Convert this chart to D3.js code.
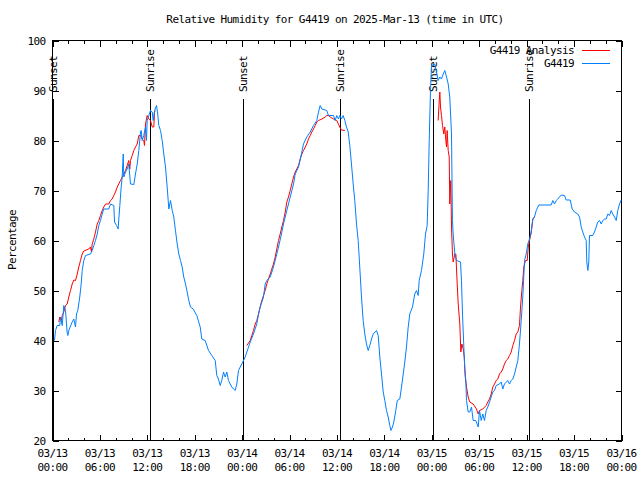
<!DOCTYPE html>
<html><head><meta charset="utf-8">
<script src="https://cdn.jsdelivr.net/npm/d3@7"></script>
<style>
html,body{margin:0;padding:0;background:#fff;}
svg{display:block;background:#fff;}
text{font-family:"DejaVu Sans Mono","Liberation Mono",monospace;font-size:11px;letter-spacing:-0.6px;fill:#000;}
</style></head><body>
<svg id="chart" width="640" height="480"></svg>
<script>
// ---------------- data ----------------
const titleText = "Relative Humidity for G4419 on 2025-Mar-13 (time in UTC)";
const yLabelText = "Percentage";
const startTime = Date.UTC(2025, 2, 13, 0, 0);   // 03/13 00:00 UTC
const spanHours = 72;
const yTicks = [20, 30, 40, 50, 60, 70, 80, 90, 100];
const seriesNames = ["G4419 Analysis", "G4419"];
const seriesColors = ["#ff0000", "#0080ff"];

// sun events: hours after 03/13 00:00 UTC
const sunNames = ["Sunset", "Sunrise", "Sunset", "Sunrise", "Sunset", "Sunrise"];
const sunHours = [0.15, 12.50, 24.21, 36.45, 48.25, 60.38];

// observed G4419 [hours after start, RH %]
const observed = [[0.25,40],[0.38,42],[0.59,43],[0.92,43],[1.01,44.7],[1.23,43],[1.43,47],[1.65,46],[1.86,41.5],[1.94,41],[2.06,42],[2.49,43.7],[2.70,44.3],[2.91,42.7],[3.04,45.3],[3.20,46],[3.45,48.7],[3.63,51.3],[3.76,54],[3.96,56],[4.18,57],[4.81,57.3],[5.02,58],[5.23,59],[5.44,60],[5.66,61.3],[5.86,63],[6.07,64],[6.29,65.3],[6.49,66.3],[7.12,66.3],[7.34,67.3],[7.76,67],[7.85,63.7],[8.10,63],[8.31,62.3],[8.39,64.3],[8.52,67],[8.69,70.7],[8.82,72.7],[8.95,77.3],[9.02,72.7],[9.24,73.7],[9.45,74.3],[9.65,75.3],[9.87,71.3],[10.29,71.2],[10.50,73.3],[10.72,75.3],[10.92,78],[11.14,81.7],[11.22,82],[11.35,80],[11.55,81],[11.77,82.7],[11.89,80],[11.98,84],[12.19,85],[12.40,86],[12.62,85.7],[12.74,84],[12.91,86],[13.16,87],[13.32,85.3],[13.45,83],[13.67,82],[13.88,80],[14.08,77.3],[14.30,74.7],[14.51,70.7],[14.72,66.3],[14.93,68],[15.15,66],[15.35,64.7],[15.56,62],[15.78,59.3],[15.98,57.3],[16.20,56],[16.41,54.7],[16.61,52.7],[16.83,51.3],[17.04,49.7],[17.25,48],[17.46,46.7],[17.80,46.3],[18.26,45],[18.69,42.7],[18.89,40.3],[19.32,40],[19.74,38],[20.16,37],[20.59,36],[20.79,33],[21.00,32.3],[21.22,31],[21.42,32],[21.64,33.7],[21.85,32.7],[22.06,33.7],[22.27,32],[22.49,31.3],[22.69,30.7],[22.90,30.3],[23.12,30],[23.32,31.3],[23.54,34],[23.75,34.7],[24.08,35.7],[24.38,36.7],[24.59,37.7],[25.02,39.7],[25.43,41.3],[25.85,43.3],[26.07,45.3],[26.28,46.7],[26.70,48.7],[26.91,51.3],[27.12,52],[27.55,52.7],[27.96,54.7],[28.18,56],[28.60,58.7],[28.89,60.7],[29.23,63.3],[29.65,66],[30.08,68.7],[30.50,71.3],[30.71,73.3],[31.13,74.7],[31.42,76.7],[31.76,79.3],[32.18,80.7],[32.61,81.7],[33.03,83],[33.44,84],[33.66,85.7],[33.87,87],[34.08,86.3],[34.71,86],[34.92,85],[35.56,85],[35.77,84],[35.97,85],[36.19,84.3],[36.35,85],[36.57,84.3],[36.78,85],[36.99,84],[37.20,82.7],[37.42,81.7],[37.62,79],[37.83,75.3],[38.05,71.3],[38.25,68],[38.47,63.3],[38.68,60],[38.88,54.7],[39.10,48.7],[39.31,44],[39.52,41.3],[39.73,39.3],[39.95,38],[40.15,39],[40.37,40.3],[40.58,41.3],[41.00,42],[41.21,41],[41.42,36.7],[41.63,33.3],[41.85,29.7],[42.05,28],[42.26,26],[42.48,24.7],[42.68,23],[42.81,22],[43.02,22.7],[43.19,23.7],[43.44,26],[43.62,28],[43.95,28.3],[44.16,30.7],[44.38,33.3],[44.58,35.7],[44.79,38.7],[45.01,42.7],[45.21,45.3],[45.55,46.7],[45.84,49.3],[46.06,50],[46.27,49],[46.40,52],[46.69,54],[46.98,57.3],[47.20,61.3],[47.41,63],[47.54,70],[47.67,80],[47.83,90],[47.96,95],[48.37,95.3],[48.59,93.7],[48.80,92],[49.01,92.7],[49.22,92.3],[49.44,93.3],[49.64,94],[49.86,92.7],[50.07,91.3],[50.27,88.7],[50.49,81.3],[50.61,64],[50.70,61.3],[50.91,57.3],[51.12,56],[51.63,55.7],[51.75,52],[51.88,45.3],[52.05,38.7],[52.17,34.3],[52.30,32],[52.39,28],[52.60,25.7],[52.80,25.7],[53.02,26.7],[53.23,24],[53.56,24],[53.87,22.7],[54.03,26],[54.25,24],[54.45,25.3],[54.66,24],[54.88,26],[55.08,26.7],[55.30,27.7],[55.51,28.7],[55.72,29.7],[55.93,30],[56.14,31],[56.56,31.3],[56.78,31.7],[56.98,30.3],[57.19,31.3],[57.61,32],[57.83,31.3],[58.04,32],[58.25,32.3],[58.46,33.3],[58.68,34.7],[58.88,36],[59.09,39.3],[59.31,44],[59.51,48.7],[59.73,56],[59.94,57.3],[60.14,59.3],[60.36,60.3],[60.57,61.7],[60.78,64.3],[60.99,64.7],[61.21,66],[61.54,67.1],[63.10,67.1],[63.31,68],[63.52,67.3],[63.74,68],[63.94,68.3],[64.37,69.1],[64.79,69],[65.00,68.1],[65.51,68.1],[65.76,66.3],[66.05,65.7],[66.47,65.3],[66.69,64.7],[66.90,62.7],[67.10,61.7],[67.32,60.7],[67.53,60],[67.61,55.7],[67.74,54],[67.86,55.7],[67.95,61],[68.37,61],[68.58,61.7],[68.80,62.7],[69.00,63.7],[69.22,64],[69.43,63.3],[69.63,64],[69.85,64.3],[70.06,64.3],[70.27,65.3],[70.48,65],[70.70,66],[70.90,65.3],[71.12,64.7],[71.33,64],[71.53,66],[71.75,67.3],[71.96,68.1]];

// analysis G4419 (night-time segments) [hours after start, RH %]
const analysisNight1 = [[0.80,43.7],[0.92,44.7],[1.10,44],[1.23,45],[1.43,45.7],[1.65,47],[1.86,47.3],[2.06,48.7],[2.28,50],[2.49,51.3],[2.70,52.1],[2.91,52],[3.13,53.3],[3.33,54.7],[3.54,56],[3.76,57.3],[3.96,57.9],[4.59,58.3],[4.81,58.7],[4.93,57.7],[5.02,59.3],[5.23,60.3],[5.44,61.7],[5.66,63.3],[5.86,64],[6.07,65],[6.29,66],[6.49,66.7],[6.71,67.3],[7.12,67.3],[7.34,68],[7.55,68.3],[7.76,69],[7.97,69.7],[8.19,70.7],[8.39,71.3],[8.60,72],[8.82,72.7],[9.02,73.3],[9.24,74],[9.45,75],[9.65,76],[9.78,74.3],[9.87,76],[10.09,77],[10.29,78],[10.50,78.7],[10.72,79.3],[10.92,81],[11.14,81],[11.35,80.3],[11.55,80],[11.64,79],[11.77,83.3],[11.98,85],[12.19,84.3],[12.40,84],[12.62,82.7],[12.82,82.7],[12.91,85.7],[13.03,86]];
const analysisNight2 = [[24.59,39],[25.02,40],[25.22,41],[25.43,42],[25.65,43.3],[25.85,44],[26.07,45.3],[26.28,46.7],[26.48,48],[26.70,49],[26.91,50],[27.12,51.3],[27.33,52.3],[27.55,53.3],[27.75,54.3],[27.96,55.3],[28.18,56.7],[28.38,58.3],[28.60,60],[28.81,61.3],[29.02,62.7],[29.23,64],[29.45,65.7],[29.65,67.7],[29.86,68.7],[30.08,70],[30.28,71.3],[30.50,72.7],[30.71,73.7],[30.91,74.3],[31.13,75],[31.34,76.3],[31.55,77.3],[31.76,78],[32.18,79.3],[32.39,80.3],[32.61,81],[32.81,81.7],[33.03,82.3],[33.24,83],[33.44,83.7],[33.66,84],[34.08,84.3],[34.51,84.7],[34.71,85],[34.92,85],[35.14,84.7],[35.56,84.3],[35.97,84],[36.35,82.7],[36.57,82.1],[36.99,82]];
const analysisNight3 = [[48.80,84],[48.93,87.7],[49.01,89.7],[49.10,86.7],[49.22,85],[49.35,83],[49.51,81.3],[49.64,82.7],[49.77,80],[49.86,78.7],[49.94,82],[50.07,78],[50.20,76.7],[50.27,67.3],[50.40,72],[50.49,62.7],[50.61,57.3],[50.70,55.7],[50.91,57.3],[51.04,57.3],[51.21,51.3],[51.34,47.3],[51.54,43.3],[51.67,37.7],[51.80,39.3],[51.97,38.3],[52.10,36.7],[52.23,32.7],[52.39,30.7],[52.60,28.7],[52.80,27.7],[53.23,27.3],[53.65,26.3],[53.87,25.3],[54.03,26],[54.45,26.3],[54.88,27],[55.08,27.7],[55.30,28.3],[55.51,29.3],[55.72,30.7],[55.93,31.3],[56.14,32],[56.35,32.3],[56.56,33.3],[56.78,33.7],[56.98,34.3],[57.19,35.3],[57.41,36],[57.61,36.3],[57.83,37],[58.04,37.7],[58.25,39],[58.46,40],[58.68,41.3],[58.88,41.7],[59.09,43],[59.22,46.7],[59.39,50],[59.51,52],[59.64,54.7],[59.85,56],[60.07,56],[60.20,58.7],[60.36,60],[60.57,61.5],[60.78,64.3],[60.99,64.7]];

// ---------------- chart ----------------
const H = 3600000;
const toDate = h => new Date(startTime + h * H);
const L = 52.5, R = 621.5, T = 40.5, B = 440.5;

const svg = d3.select("#chart");
const x = d3.scaleUtc().domain([toDate(0), toDate(spanHours)]).range([L, R]);
const y = d3.scaleLinear().domain([20, 100]).range([B, T]);

// title
svg.append("text").attr("x", 335).attr("y", 19).attr("dy", "0.35em")
  .attr("text-anchor", "middle").text(titleText);
// y label
svg.append("text").attr("transform", "translate(12,240) rotate(-90)")
  .attr("dy", "0.35em").attr("text-anchor", "middle").text(yLabelText);

const majorTicks = d3.utcHour.every(6).range(toDate(0), toDate(spanHours + 0.01));
const minorTicks = d3.utcHour.every(2).range(toDate(0), toDate(spanHours + 0.01));

function styleAxis(g) {
  g.select(".domain").remove();
  g.selectAll("line").attr("stroke", "#000").attr("shape-rendering", "crispEdges");
  g.selectAll("text").attr("font-family", null).attr("font-size", null);
}
// bottom / top ticks (inward)
svg.append("g").attr("transform", `translate(0,${B})`)
  .call(d3.axisBottom(x).tickValues(minorTicks).tickSize(-3).tickFormat("")).call(styleAxis);
svg.append("g").attr("transform", `translate(0,${B})`)
  .call(d3.axisBottom(x).tickValues(majorTicks).tickSize(-6).tickFormat("")).call(styleAxis);
svg.append("g").attr("transform", `translate(0,${T})`)
  .call(d3.axisTop(x).tickValues(minorTicks).tickSize(-3).tickFormat("")).call(styleAxis);
svg.append("g").attr("transform", `translate(0,${T})`)
  .call(d3.axisTop(x).tickValues(majorTicks).tickSize(-6).tickFormat("")).call(styleAxis);
// x tick labels (two lines)
const fmtDay = d3.utcFormat("%m/%d"), fmtTime = d3.utcFormat("%H:%M");
const xl = svg.append("g").selectAll("text").data(majorTicks).join("text")
  .attr("text-anchor", "middle").attr("x", d => x(d));
xl.append("tspan").attr("x", d => x(d)).attr("y", 453).attr("dy", "0.35em").text(d => fmtDay(d));
xl.append("tspan").attr("x", d => x(d)).attr("y", 467).attr("dy", "0.35em").text(d => fmtTime(d));

// left / right ticks
svg.append("g").attr("transform", `translate(${L},0)`)
  .call(d3.axisLeft(y).tickValues(yTicks).tickSize(-6).tickPadding(7).tickFormat(d3.format("d")))
  .call(styleAxis);
svg.append("g").attr("transform", `translate(${R},0)`)
  .call(d3.axisRight(y).tickValues(yTicks).tickSize(-6).tickFormat("")).call(styleAxis);

// border
svg.append("rect").attr("x", L).attr("y", T).attr("width", R - L).attr("height", B - T)
  .attr("fill", "none").attr("stroke", "#000").attr("shape-rendering", "crispEdges");

// sun lines
const sun = svg.append("g").selectAll("g").data(sunHours.map((h, i) => ({h, name: sunNames[i]}))).join("g");
sun.append("line").attr("x1", d => Math.round(x(toDate(d.h))) - 0.5).attr("x2", d => Math.round(x(toDate(d.h))) - 0.5)
  .attr("y1", 99).attr("y2", B).attr("stroke", "#000").attr("shape-rendering", "crispEdges");
sun.append("text").attr("transform", d => `translate(${Math.round(x(toDate(d.h))) - 0.5},92) rotate(-90)`)
  .attr("dy", "0.35em").attr("text-anchor", "start").text(d => d.name);

// series
const line = d3.line().x(d => x(toDate(d[0]))).y(d => y(d[1]));
const plot = svg.append("g");
[analysisNight1, analysisNight2, analysisNight3].forEach(seg => {
  plot.append("path").datum(seg).attr("d", line).attr("fill", "none")
    .attr("stroke", seriesColors[0]).attr("stroke-width", 1);
});
plot.append("path").datum(observed).attr("d", line).attr("fill", "none")
  .attr("stroke", seriesColors[1]).attr("stroke-width", 1);

// legend
const leg = svg.append("g").selectAll("g").data(seriesNames).join("g")
  .attr("transform", (d, i) => `translate(0,${50 + i * 13})`);
leg.append("text").attr("x", 574).attr("dy", "0.35em").attr("text-anchor", "end").text(d => d);
leg.append("line").attr("x1", 582).attr("x2", 610).attr("y1", 0.5).attr("y2", 0.5)
  .attr("stroke", (d, i) => seriesColors[i]).attr("stroke-width", 1).attr("shape-rendering", "crispEdges");
</script>
</body></html>
